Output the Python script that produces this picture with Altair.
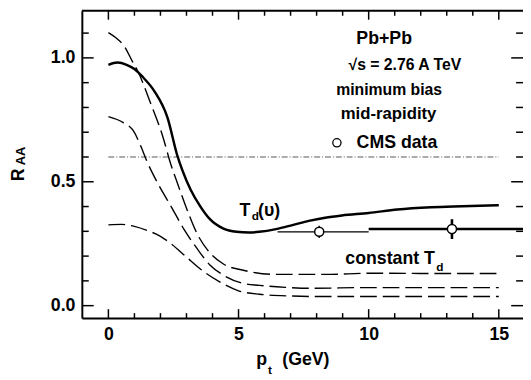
import altair as alt
import pandas as pd

# ---------------- data ----------------
solid_pt = [0, 0.35, 0.7, 1.0, 1.3, 1.77, 2.27, 2.65, 2.84, 3.16, 3.53, 3.91, 4.42, 4.92,
            5.4, 5.8, 6.44, 7.07, 7.7, 8.33, 8.97, 10.0, 11.1, 12.4, 13.6, 15.0]
solid_raa = [0.972, 0.981, 0.972, 0.955, 0.925, 0.865, 0.759, 0.605, 0.547, 0.468, 0.401, 0.348,
             0.311, 0.298, 0.295, 0.298, 0.309, 0.325, 0.342, 0.355, 0.364, 0.374, 0.388, 0.397,
             0.401, 0.405]

d1_pt = [0, 0.3, 0.63, 0.9, 1.14, 1.64, 2.08, 2.4, 2.65, 3.03, 3.41, 3.91, 4.42, 5.18, 6.44,
         8.33, 10.1, 12.0, 15.0]
d1_raa = [1.102, 1.08, 1.044, 0.99, 0.944, 0.812, 0.686, 0.57, 0.495, 0.385, 0.29, 0.212, 0.168,
          0.143, 0.126, 0.126, 0.131, 0.130, 0.130]

d2_pt = [0, 0.57, 0.95, 1.26, 1.45, 1.89, 2.4, 2.9, 3.41, 3.91, 4.42, 5.18, 5.8, 6.8, 7.7, 10.0, 15.0]
d2_raa = [0.763, 0.739, 0.707, 0.64, 0.59, 0.495, 0.402, 0.309, 0.230, 0.163, 0.123, 0.090,
          0.082, 0.074, 0.070, 0.073, 0.073]

d3_pt = [0, 0.5, 1.0, 1.5, 2.0, 2.37, 3.0, 3.63, 4.26, 5.0, 5.8, 7.0, 8.0, 15.0]
d3_raa = [0.326, 0.328, 0.320, 0.303, 0.28, 0.253, 0.196, 0.14, 0.097, 0.060, 0.046, 0.039,
          0.037, 0.037]

ref_pt = [0, 15]
ref_raa = [0.6, 0.6]

cms_pt = [8.1, 13.2]
cms_raa = [0.298, 0.309]
cms_pt_lo = [6.5, 10.0]
cms_pt_hi = [10.0, 20.0]
cms_err = [0.025, 0.04]
cms_bar = ["thin", "thick"]

x_major = [0, 5, 10, 15]
x_minor = [1, 2, 3, 4, 6, 7, 8, 9, 11, 12, 13, 14]
y_major = [0.0, 0.5, 1.0]
y_minor = [0.1, 0.2, 0.3, 0.4, 0.6, 0.7, 0.8, 0.9, 1.1]

# ---------------- layout ----------------
W, H = 448, 312
FONT = "Liberation Sans"

xs = alt.Scale(domain=[-1.02, 15.93], nice=False, zero=False)
ys = alt.Scale(domain=[-0.05, 1.19], nice=False, zero=False)
xaxis = alt.Axis(values=x_major, ticks=False, grid=False, title=None, domain=True,
                 domainColor="black", domainWidth=2, labelFont=FONT, labelFontSize=18,
                 labelFontWeight="bold", labelColor="black", labelPadding=8, format="d")
yaxis = alt.Axis(values=y_major, ticks=False, grid=False, title=None, domain=True,
                 domainColor="black", domainWidth=2, labelFont=FONT, labelFontSize=18,
                 labelFontWeight="bold", labelColor="black", labelPadding=7, format=".1f")


def X(f="x"):
    return alt.X(f"{f}:Q", scale=xs, axis=xaxis)


def Y(f="y"):
    return alt.Y(f"{f}:Q", scale=ys, axis=yaxis)


one = pd.DataFrame({"k": [0]})

solid_df = pd.DataFrame({"x": solid_pt, "y": solid_raa})
dash_df = pd.concat([
    pd.DataFrame({"x": d1_pt, "y": d1_raa, "c": "a"}),
    pd.DataFrame({"x": d2_pt, "y": d2_raa, "c": "b"}),
    pd.DataFrame({"x": d3_pt, "y": d3_raa, "c": "c"}),
])
ref_df = pd.DataFrame({"x": ref_pt, "y": ref_raa})
cms_df = pd.DataFrame({"x": cms_pt, "y": cms_raa, "xlo": cms_pt_lo, "xhi": cms_pt_hi,
                       "ylo": [r - e for r, e in zip(cms_raa, cms_err)],
                       "yhi": [r + e for r, e in zip(cms_raa, cms_err)], "bar": cms_bar})

layers = []

ref_line = alt.Chart(ref_df).mark_line(color="#555", strokeWidth=1, strokeDash=[6, 2, 1, 2]).encode(
    x=X(), y=Y())
layers.append(ref_line)

dashed = alt.Chart(dash_df).mark_line(color="black", strokeWidth=1.4, strokeDash=[17, 6],
                                      interpolate="monotone").encode(x=X(), y=Y(), detail="c:N")
layers.append(dashed)

solid = alt.Chart(solid_df).mark_line(color="black", strokeWidth=2.5, interpolate="monotone").encode(
    x=X(), y=Y())
layers.append(solid)

for b, sw in (("thin", 1.4), ("thick", 2.6)):
    sub = cms_df[cms_df["bar"] == b]
    layers.append(alt.Chart(sub).mark_rule(color="black", strokeWidth=sw, clip=True).encode(
        x=X("xlo"), x2="xhi:Q", y=Y()))
    layers.append(alt.Chart(sub).mark_rule(color="black", strokeWidth=sw).encode(
        x=X(), y=Y("ylo"), y2="yhi:Q"))

pts = alt.Chart(cms_df).mark_point(shape="circle", filled=True, fill="white", stroke="black",
                                    strokeWidth=1.5, size=85, opacity=1).encode(x=X(), y=Y())
layers.append(pts)

# frame top line and ticks
layers.append(alt.Chart(one).mark_rule(color="black", strokeWidth=2).encode(
    x=alt.value(0), x2=alt.value(W), y=alt.value(0)))

for vals, ln in ((x_major, 9), (x_minor, 5)):
    d = pd.DataFrame({"x": vals})
    layers.append(alt.Chart(d).mark_rule(color="black", strokeWidth=1.5).encode(
        x=X(), y=alt.value(H), y2=alt.value(H - ln)))
    layers.append(alt.Chart(d).mark_rule(color="black", strokeWidth=1.5).encode(
        x=X(), y=alt.value(0), y2=alt.value(ln)))
for vals, ln in ((y_major, 12), (y_minor, 7)):
    d = pd.DataFrame({"y": vals})
    layers.append(alt.Chart(d).mark_rule(color="black", strokeWidth=1.5).encode(
        y=Y(), x=alt.value(0), x2=alt.value(ln)))
    layers.append(alt.Chart(d).mark_rule(color="black", strokeWidth=1.5).encode(
        y=Y(), x=alt.value(W), x2=alt.value(W - ln)))


def txt(s, x, y, size=17, align="left", baseline="alphabetic", angle=0):
    kw = dict(text=s, font=FONT, fontSize=size, fontWeight="bold", color="black",
              align=align, baseline=baseline)
    if angle:
        kw["angle"] = angle
    return alt.Chart(one).mark_text(**kw).encode(x=alt.value(x), y=alt.value(y))


# legend block
layers.append(txt("Pb+Pb", 307, 29, size=18, align="center", baseline="middle"))
layers.append(txt("\u221as = 2.76 A TeV", 328, 55, size=16, align="center", baseline="middle"))
layers.append(txt("minimum bias", 312, 80, size=16, align="center", baseline="middle"))
layers.append(txt("mid-rapidity", 311.5, 105, size=17, align="center", baseline="middle"))
layers.append(txt("CMS data", 279, 134, size=18, align="left", baseline="middle"))
layers.append(alt.Chart(one).mark_point(shape="circle", filled=True, fill="white", stroke="black",
                                        strokeWidth=1.3, size=70, opacity=1).encode(
    x=alt.value(259), y=alt.value(134)))

# curve labels
layers.append(txt("T", 160, 208, size=18))
layers.append(txt("d", 172.5, 212, size=12))
layers.append(txt("(\u03c5)", 179, 208, size=18))
layers.append(txt("constant T", 358.5, 257, size=18, align="right"))
layers.append(txt("d", 360, 264, size=12))

# axis titles
layers.append(txt("R", -59, 166.5, size=18, align="center", angle=270))
layers.append(txt("AA", -58, 147.5, size=13, align="center", angle=270))
layers.append(txt("p", 177, 360, size=18))
layers.append(txt("t", 189, 369, size=12))
layers.append(txt("(GeV)", 203.5, 360, size=18))

chart = alt.layer(*layers).properties(
    width=W, height=H,
    autosize=alt.AutoSizeParams(type="none"),
    padding={"left": 75, "top": 0, "right": 0, "bottom": 56},
).configure_view(stroke=None)

chart.save("out.html", embed_options={"renderer": "svg", "actions": False})
